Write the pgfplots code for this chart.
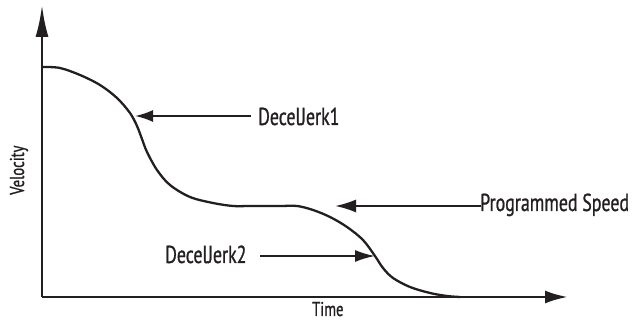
\documentclass[border=0pt]{standalone}
\usepackage{fontspec}
\setmainfont{PT Sans}[FakeStretch=0.73,FakeBold=0.9]
\usepackage{pgfplots}
\pgfplotsset{compat=1.18}
\usetikzlibrary{arrows.meta}
\definecolor{ink}{HTML}{231F20}

\begin{document}
\begin{tikzpicture}
\begin{axis}[
  scale only axis,width=526pt,height=292pt,
  xmin=42,xmax=568,ymin=24,ymax=316,
  axis lines=left,xtick=\empty,ytick=\empty,
  clip=false,
  x axis line style={line width=2.8pt,color=ink,-{Latex[length=23pt,width=13pt]}},
  y axis line style={line width=2.8pt,color=ink,-{Latex[length=32pt,width=13pt]}},
]
\addplot[ink,line width=2.3pt,smooth,tension=0.55] coordinates {
  (43,254) (60,253) (80,246) (100,236) (117,223) (130,208) (137,195)
  (142,182) (147,169) (157,151) (170,136) (190,124) (213,118) (233,115)
  (250,115) (280,115) (297,115) (313,111) (330,104) (347,94) (363,81)
  (375,65) (383,53) (393,43) (410,34) (430,28) (447,25) (460,24)};

% call-outs
\draw[ink,line width=2pt,-{Latex[length=18pt,width=12pt]}] (axis cs:251,205) -- (axis cs:135,205);
\draw[ink,line width=2pt,-{Latex[length=21pt,width=13pt]}] (axis cs:481,115) -- (axis cs:335,115);
\draw[ink,line width=2pt,-{Latex[length=20pt,width=12pt]}] (axis cs:260,65) -- (axis cs:375,65);
\node[anchor=base west,inner sep=0pt,font=\fontsize{24.5}{27}\selectfont,text=ink] at (axis cs:258,196) {DecelJerk1};
\node[anchor=base west,inner sep=0pt,font=\fontsize{24.5}{27}\selectfont,text=ink] at (axis cs:480,110) {Programmed Speed};
\node[anchor=base west,inner sep=0pt,font=\fontsize{24.5}{27}\selectfont,text=ink] at (axis cs:165,58) {DecelJerk2};
\node[anchor=base west,inner sep=0pt,font=\fontsize{20}{24}\selectfont,text=ink] at (axis cs:312,5) {Time};
\node[anchor=base west,rotate=90,inner sep=0pt,font=\fontsize{20}{24}\selectfont,text=ink] at (axis cs:24,126) {Velocity};

% title cut off by the top edge: only the foot of its brackets shows
\node[anchor=base,inner sep=0pt,font=\fontsize{64}{70}\selectfont\bfseries] at (axis cs:386,336) {(};
\node[anchor=base,inner sep=0pt,font=\fontsize{64}{70}\selectfont\bfseries] at (axis cs:600,336) {)};

\coordinate (bl) at (axis cs:0,0);
\coordinate (tr) at (axis cs:643,321);
\end{axis}
\pgfresetboundingbox
\useasboundingbox (bl) rectangle (tr);
\end{tikzpicture}
\end{document}
